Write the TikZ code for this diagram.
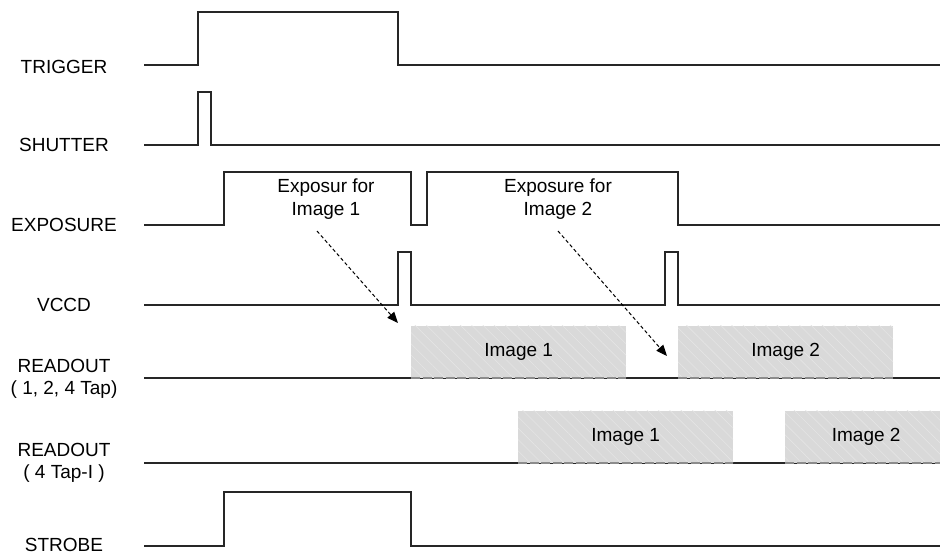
\documentclass[tikz,border=0pt]{standalone}
\usepackage{fontspec}
\setmainfont{Liberation Sans}
\usepackage{xcolor}
\usepackage{tikz}
\usetikzlibrary{arrows.meta,patterns.meta}
\definecolor{rdfill}{gray}{0.85}
\definecolor{rdhatch}{gray}{0.90}
\definecolor{rdedge}{gray}{0.55}

\begin{document}
\begin{tikzpicture}[x=1pt, y=-1pt,
  sig/.style={draw=black!85, line width=1.3pt},
  lbl/.style={font=\fontsize{19}{22.5}\selectfont, align=center},
  rdbox/.style={lbl, fill=rdfill, draw=none, anchor=south west,
    minimum height=52pt, inner sep=0pt,
    postaction={pattern={Lines[angle=-45, distance=8pt, line width=0.6pt]},
      pattern color=rdhatch}},
  note/.style={dash pattern=on 3.5pt off 2.5pt, line width=1pt,
    -{Triangle[length=11pt, width=9pt]}}]
  \useasboundingbox (0,0) rectangle (940,555);
  % signal names
  \node[lbl] (lTrig) at (64,67) {TRIGGER};
  \node[lbl] (lShut) at (64,145) {SHUTTER};
  \node[lbl] (lExpo) at (64,225) {EXPOSURE};
  \node[lbl] (lVccd) at (64,305) {VCCD};
  \node[lbl] (lRdA) at (64,379) {READOUT\\( 1, 2, 4 Tap)};
  \node[lbl] (lRdB) at (64,463) {READOUT\\( 4 Tap-I )};
  \node[lbl] (lStrb) at (64,545) {STROBE};
  % waveforms
  \draw[sig] (144,65) -- (198,65) -- (198,12) -- (398,12) -- (398,65) -- (940,65);
  \draw[sig] (144,145) -- (198,145) -- (198,92) -- (211,92) -- (211,145) -- (940,145);
  \draw[sig] (144,225) -- (224,225) -- (224,172) -- (411,172) -- (411,225)
    -- (427,225) -- (427,172) -- (678,172) -- (678,225) -- (940,225);
  \draw[sig] (144,305) -- (398,305) -- (398,252) -- (411,252) -- (411,305)
    -- (665,305) -- (665,252) -- (678,252) -- (678,305) -- (940,305);
  \draw[sig] (144,378) -- (940,378);
  \draw[sig] (144,463) -- (940,463);
  \draw[sig] (144,546) -- (224,546) -- (224,492) -- (411,492) -- (411,546) -- (940,546);
  % readout frames
  \foreach \nm/\xa/\yb/\bw/\txt in {rA/411/378/215/Image 1, rB/678/378/215/Image 2,
      rC/518/463/215/Image 1, rD/785/463/162/Image 2} {
    \node[rdbox, minimum width=\bw pt] (\nm) at (\xa,\yb) {\txt};
    \draw[rdedge, line width=1.3pt, dash pattern=on 9pt off 2.5pt]
      (\nm.south west) -- (\nm.south east);
  }
  % exposure notes
  \node[lbl] (nExpA) at (326,199) {Exposur for\\Image 1};
  \node[lbl] (nExpB) at (558,199) {Exposure for\\Image 2};
  \coordinate (aS1) at (317,231);
  \coordinate (aE1) at (398,323);
  \coordinate (aS2) at (558,231);
  \coordinate (aE2) at (667,356);
  \foreach \a/\b in {aS1/aE1, aS2/aE2} \draw[note] (\a) -- (\b);
\end{tikzpicture}
\end{document}
